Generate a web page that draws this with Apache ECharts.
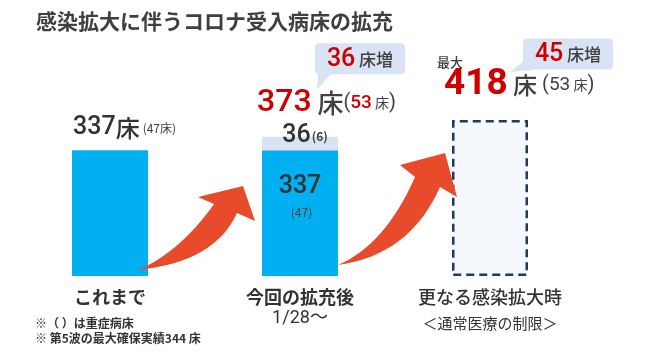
<!DOCTYPE html>
<html>
<head>
<meta charset="utf-8">
<script src="https://cdn.jsdelivr.net/npm/echarts@6/dist/echarts.min.js"></script>
<style>
html, body { margin: 0; padding: 0; background: #fff; }
#main { width: 646px; height: 354px; }
</style>
</head>
<body>
<div id="main"></div>
<script>
// データ
const categories = ['これまで', '今回の拡充後', '更なる感染拡大時']
const subLabels = ['', '1/28～', '＜通常医療の制限＞']
const baseBeds = [337, 337, '-']
const baseSevere = [47, 47, null]
const addedBeds = ['-', 36, '-']
const addedSevere = [null, 6, null]
const maxBeds = ['-', '-', 418]
const totalBeds = [337, 373, 418]
const totalSevere = [47, 53, 53]
const increase = [null, 36, 45]
const notes = ['※（ ）は重症病床', '※ 第5波の最大確保実績344 床']
const titleText = '感染拡大に伴うコロナ受入病床の拡充'

const RED = '#cc0000'
const GRAY = '#404040'
const BLUE = '#00b0f0'
const PALE = '#dae3f3'
const ARROW = '#e84b2c'
const JP = '"Noto Sans CJK JP", sans-serif'
const NUM = 'Roboto, "Noto Sans CJK JP", sans-serif'
const BAR_W = 76

const chart = echarts.init(document.getElementById('main'))

// 既存病床（青）
const baseData = baseBeds.map((v, i) => {
	if (i === 0) {
		return {
			value: v,
			label: {
				show: true, position: [1, -8], align: 'left', verticalAlign: 'bottom',
				formatter: `{n|${v}}{u|床}{s|(${baseSevere[i]}床)}`
			}
		}
	}
	if (i === 1) {
		return {
			value: v,
			label: {
				show: true, position: 'insideTop', distance: 23,
				formatter: `{n|${v}}\n{s|(${baseSevere[i]})}`
			}
		}
	}
	return v
})

// 増床分
const addedData = addedBeds.map((v, i) => {
	if (v === '-') return v
	return {
		value: v,
		label: {
			show: true, position: 'insideBottom', distance: 0, offset: [5, 0],
			formatter: `{n|${v}}{t|(${addedSevere[i]})}`
		}
	}
})

const labelRich = {
	n: { fontSize: 25, fontFamily: NUM, fontWeight: 500, color: '#333', lineHeight: 28 },
	u: { fontSize: 24, fontFamily: JP, fontWeight: 500, color: '#333', lineHeight: 28 },
	s: { fontSize: 12, fontFamily: JP, color: GRAY, lineHeight: 22, padding: [0, 0, 0, 3] },
	t: { fontSize: 12, fontFamily: JP, fontWeight: 'bold', color: GRAY, lineHeight: 22, padding: [0, 0, 0, 1] }
}

chart.setOption({
	animation: false,
	title: {
		text: titleText, left: 31, top: 6,
		textStyle: { fontSize: 21, fontWeight: 'bold', color: '#3f3f3f', fontFamily: JP }
	},
	grid: { left: 15, right: 61, top: 120, bottom: 78 },
	xAxis: {
		type: 'category',
		data: categories,
		axisLine: { show: false },
		axisTick: { show: false },
		axisLabel: {
			interval: 0,
			margin: 10,
			formatter: (v, i) => {
				const head = i === 2 ? `{c|${v}}` : `{a|${v}}`
				if (!subLabels[i]) return head
				return head + '\n' + (i === 1 ? `{b|${subLabels[i]}}` : `{d|${subLabels[i]}}`)
			},
			rich: {
				a: { fontSize: 18, fontWeight: 'bold', color: '#333', fontFamily: JP, lineHeight: 22 },
				c: { fontSize: 18, fontWeight: 500, color: '#333', fontFamily: JP, lineHeight: 22 },
				b: { fontSize: 18, color: '#333', fontFamily: NUM, lineHeight: 20 },
				d: { fontSize: 15, color: '#333', fontFamily: JP, lineHeight: 30 }
			}
		}
	},
	yAxis: {
		type: 'value', min: 0, max: Math.max(...totalBeds), show: false,
		splitLine: { show: false }
	},
	series: [
		{
			name: '確保病床', type: 'bar', stack: 'beds', barWidth: BAR_W,
			data: baseData,
			itemStyle: { color: BLUE },
			label: { show: false, rich: labelRich }
		},
		{
			name: '増床', type: 'bar', stack: 'beds', barWidth: BAR_W,
			data: addedData,
			itemStyle: { color: PALE },
			label: { show: false, rich: labelRich }
		},
		{
			name: '最大', type: 'bar', stack: 'beds', barWidth: BAR_W,
			data: maxBeds,
			itemStyle: {
				color: '#f5f8fd', borderColor: '#1f3864', borderWidth: 2.5, borderType: [8, 5]
			}
		}
	]
})

// 棒の位置からピクセル座標を取る
const px = (i, v) => chart.convertToPixel({ gridIndex: 0 }, [i, v])

// 2次ベジェを点列にする
function quad(a, c, b, n) {
	const out = []
	for (let k = 0; k <= n; k++) {
		const t = k / n
		const u = 1 - t
		out.push([u * u * a[0] + 2 * u * t * c[0] + t * t * b[0], u * u * a[1] + 2 * u * t * c[1] + t * t * b[1]])
	}
	return out
}

// 矢印の形（棒の右下角基準）: 尾, 下側制御点, 右付け根, 右かえし, 先端, 左かえし, 左付け根, 上側制御点
const arrowShapes = [
	[[-10, -6], [67, -14], [89, -63], [107, -55], [95, -90], [50, -79], [66, -72], [32, -24]],
	[[0, -11], [72, -21], [102, -89], [119, -79], [107, -123], [62, -111], [77, -99], [47, -31]]
]

function arrowPoints(ax, ay, pts) {
	const p = pts.map(q => [ax + q[0], ay + q[1]])
	const lower = quad(p[0], p[1], p[2], 16)
	const upper = quad(p[6], p[7], p[0], 16)
	return lower.concat([p[3], p[4], p[5]], upper.slice(0, -1))
}

function bubble(cx, cy, tail, inc) {
	return [
		{
			type: 'rect', z: 100,
			shape: { x: cx - 45, y: cy - 15.5, width: 90, height: 31, r: 4 },
			style: { fill: PALE }
		},
		{
			type: 'polygon', z: 100,
			shape: { points: tail },
			style: { fill: PALE }
		},
		{
			type: 'text', z: 101,
			style: {
				x: cx, y: cy + 1, align: 'center', verticalAlign: 'middle',
				text: `{r|${inc}}{g| 床増}`,
				rich: {
					r: { fontSize: 25, fontFamily: NUM, fontWeight: 500, fill: RED },
					g: { fontSize: 17, fontFamily: JP, fontWeight: 500, fill: GRAY }
				}
			}
		}
	]
}

const graphics = []

arrowShapes.forEach((pts, k) => {
	const p = px(k, 0)
	graphics.push({
		type: 'polygon', z: 100,
		shape: { points: arrowPoints(p[0] + BAR_W / 2, p[1], pts) },
		style: { fill: ARROW }
	})
})

// 今回の拡充後
{
	const [tx, ty] = px(1, totalBeds[1])
	graphics.push({
		type: 'text', z: 101,
		style: {
			x: tx - 43, y: ty - 34, align: 'left', verticalAlign: 'middle',
			text: `{big|${totalBeds[1]}}{u| 床}{p|(}{r|${totalSevere[1]}}{s| 床}{p|)}`,
			rich: {
				big: { fontSize: 32, fontFamily: NUM, fill: RED, fontWeight: 500 },
				u: { fontSize: 26, fontFamily: JP, fontWeight: 500, fill: GRAY },
				p: { fontSize: 20, fontFamily: NUM, fill: GRAY },
				r: { fontSize: 19, fontFamily: NUM, fontWeight: 500, fill: RED },
				s: { fontSize: 14, fontFamily: JP, fill: GRAY }
			}
		}
	})
	graphics.push(...bubble(tx + 60, ty - 78,
		[[tx + 18, ty - 63], [tx + 31, ty - 63], [tx + 17, ty - 47]], increase[1]))
}

// 更なる感染拡大時
{
	const [tx, ty] = px(2, totalBeds[2])
	graphics.push({
		type: 'text', z: 101,
		style: {
			x: tx - 53, y: ty - 58, align: 'left', verticalAlign: 'middle',
			text: '最大', font: `500 13px ${JP}`, fill: GRAY
		}
	})
	graphics.push({
		type: 'text', z: 101,
		style: {
			x: tx - 46, y: ty - 35, align: 'left', verticalAlign: 'middle',
			text: `{big|${totalBeds[2]}}{u| 床}{p| (}{g|${totalSevere[2]}}{s| 床}{p|)}`,
			rich: {
				big: { fontSize: 37, fontFamily: NUM, fill: RED, fontWeight: 'bold' },
				u: { fontSize: 24, fontFamily: JP, fontWeight: 500, fill: GRAY },
				p: { fontSize: 20, fontFamily: NUM, fill: GRAY },
				g: { fontSize: 19, fontFamily: NUM, fill: GRAY },
				s: { fontSize: 14, fontFamily: JP, fill: GRAY }
			}
		}
	})
	graphics.push(...bubble(tx + 78, ty - 66,
		[[tx + 35, ty - 60], [tx + 44, ty - 50], [tx + 20, ty - 48]], increase[2]))
}

// 注記
notes.forEach((t, k) => {
	graphics.push({
		type: 'text', z: 101,
		style: {
			x: 35, y: 323 + k * 15, align: 'left', verticalAlign: 'middle',
			text: t, font: `bold 12px ${JP}`, fill: '#333'
		}
	})
})

chart.setOption({ graphic: graphics })
</script>
</body>
</html>
